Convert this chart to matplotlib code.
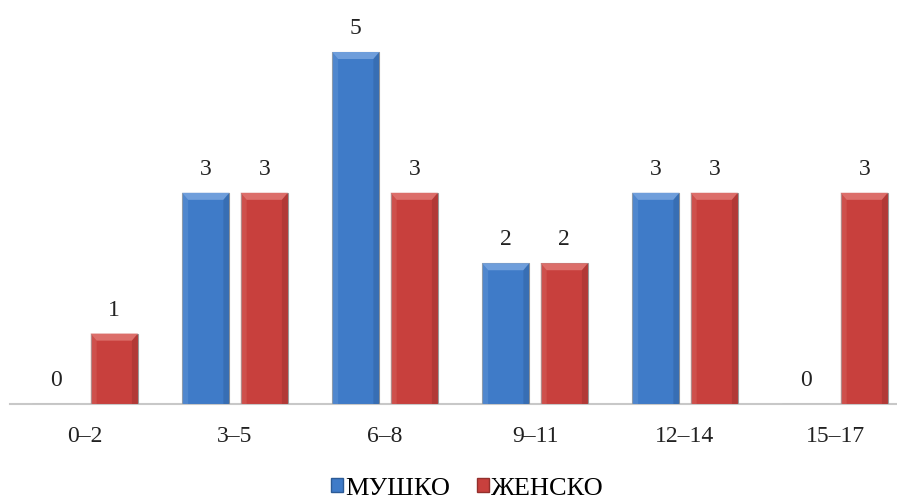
import matplotlib
matplotlib.use('Agg')
import matplotlib.pyplot as plt
from matplotlib.patches import Polygon, Rectangle
import numpy as np

categories = ['0–2', '3–5', '6–8', '9–11', '12–14', '15–17']
male = [0, 3, 5, 2, 3, 0]
female = [1, 3, 3, 2, 3, 3]
series_names = ['МУШКО', 'ЖЕНСКО']

plt.rcParams['font.family'] = ['Liberation Serif', 'DejaVu Serif']

colors = ['#3f7bc8', '#c8403d']
light = ['#6f9edb', '#dc6e6a']
dark = ['#2c5b96', '#93302d']

fig = plt.figure(figsize=(8.97, 5.02), dpi=100)
ax = fig.add_axes([10 / 897, 1 - 405 / 502, 900 / 897, 405 / 502])

x = np.arange(len(categories))
w = 0.315
gap = 0.075
ylim_top = 405 / 70.4
ax.set_xlim(-0.5, len(categories) - 0.5)
ax.set_ylim(0, ylim_top)

# bevel size in data units
bx = 0.04
by = 0.1


def bevel_bar(xc, h, i):
    x0 = xc - w / 2
    x1 = xc + w / 2
    ax.add_patch(Rectangle((x0, 0), w, h, facecolor=colors[i],
                           edgecolor='#9a9a9a', linewidth=0.8, zorder=3))
    if h <= 0:
        return
    # top bevel
    ax.add_patch(Polygon([(x0, h), (x1, h), (x1 - bx, h - by), (x0 + bx, h - by)],
                         closed=True, facecolor=light[i], edgecolor='none',
                         zorder=4))
    # side bevels
    ax.add_patch(Polygon([(x0, h), (x0 + bx, h - by), (x0 + bx, 0), (x0, 0)],
                         closed=True, facecolor=light[i], edgecolor='none',
                         alpha=0.35, zorder=4))
    ax.add_patch(Polygon([(x1, h), (x1 - bx, h - by), (x1 - bx, 0), (x1, 0)],
                         closed=True, facecolor=dark[i], edgecolor='none',
                         alpha=0.4, zorder=4))


for j in range(len(categories)):
    xm = x[j] - gap / 2 - w / 2
    xf = x[j] + gap / 2 + w / 2
    bevel_bar(xm, male[j], 0)
    bevel_bar(xf, female[j], 1)
    ax.text(xm, male[j] + 0.2, str(male[j]), ha='center', va='bottom',
            fontsize=17, color='#222222')
    ax.text(xf, female[j] + 0.2, str(female[j]), ha='center', va='bottom',
            fontsize=17, color='#222222')

for s in ['top', 'right', 'left']:
    ax.spines[s].set_visible(False)
ax.spines['bottom'].set_color('#c8c8c8')
ax.spines['bottom'].set_linewidth(1.5)
ax.set_yticks([])
ax.set_xticks(x)
ax.set_xticklabels(categories, fontsize=17, color='#222222')
ax.tick_params(axis='x', length=0, pad=15)

handles = [Rectangle((0, 0), 1, 1, facecolor=colors[i], edgecolor=dark[i])
           for i in range(2)]
fig.legend(handles, series_names, loc='center', bbox_to_anchor=(0.521, 0.025),
           ncol=2, frameon=False, fontsize=19, handlelength=0.45,
           handleheight=0.45, handletextpad=0.1, columnspacing=1.0)

fig.savefig('out.png', dpi=100)
